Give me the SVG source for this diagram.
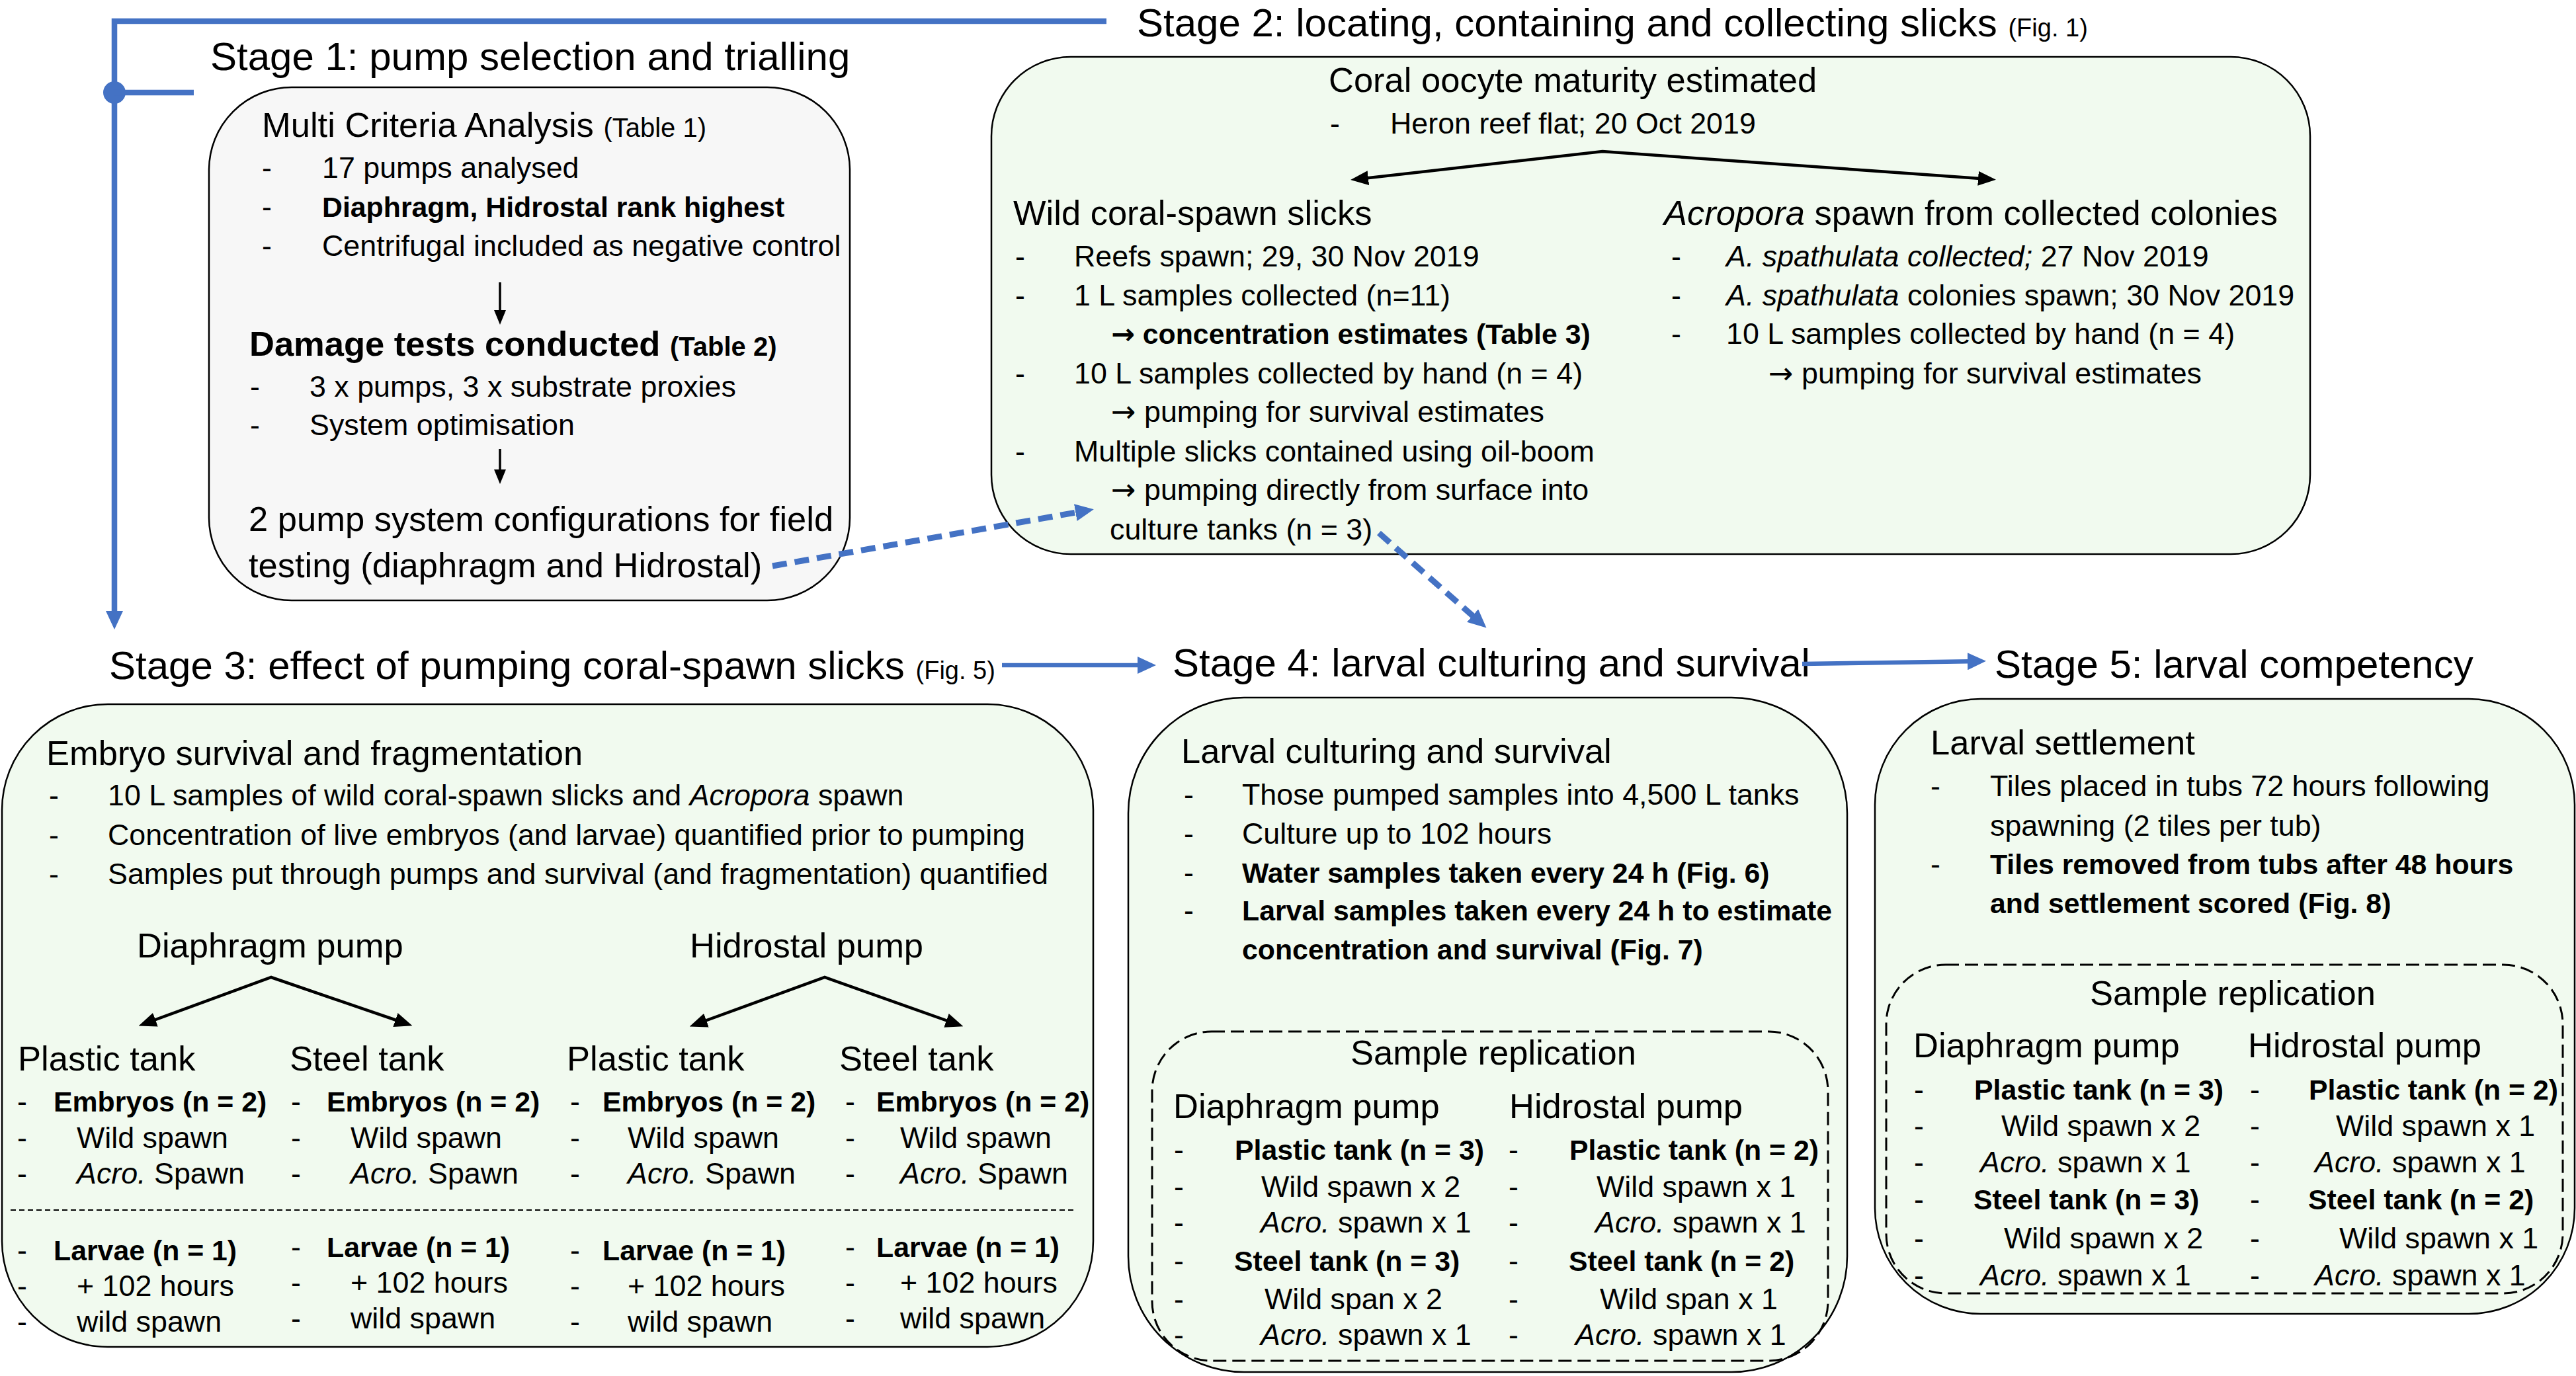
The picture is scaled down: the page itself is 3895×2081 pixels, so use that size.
<svg xmlns="http://www.w3.org/2000/svg" width="3895" height="2081" viewBox="0 0 3895 2081">
<style>
text { font-family: "Liberation Sans", Arial, sans-serif; fill: #000; }
.ti { font-size: 60px; }
.h { font-size: 52.5px; }
.b { font-size: 44.8px; }
.bb { font-size: 42.8px; font-weight: bold; }
.sm { font-size: 40px; }
.xs { font-size: 38px; }
.bf { font-weight: bold; }
.it { font-style: italic; }
.ar { font-family: "DejaVu Sans", sans-serif; }
.box { stroke: #000; stroke-width: 2.5; }
.grey { fill: #F7F7F7; }
.green { fill: #F1FAEF; }
.dbox { fill: none; stroke: #000; stroke-width: 3; stroke-dasharray: 20 9; }
.sep { fill: none; stroke: #000; stroke-width: 2; stroke-dasharray: 8 5; }
.bl { stroke: #4472C4; fill: none; }
.bk { stroke: #000; fill: none; }
</style>
<defs>
<marker id="bh" viewBox="0 0 28 26" markerWidth="28" markerHeight="26" refX="18" refY="13" orient="auto" markerUnits="userSpaceOnUse"><path d="M0,0 L28,13 L0,26 z" fill="#4472C4"/></marker>
<marker id="kh" viewBox="0 0 27 22" markerWidth="27" markerHeight="22" refX="17" refY="11" orient="auto-start-reverse" markerUnits="userSpaceOnUse"><path d="M0,0 L27,11 L0,22 z" fill="#000"/></marker>
<marker id="ks" viewBox="0 0 22 18" markerWidth="22" markerHeight="18" refX="12" refY="9" orient="auto" markerUnits="userSpaceOnUse"><path d="M0,0 L22,9 L0,18 z" fill="#000"/></marker>
</defs>

<g id="stage1">
<text class="ti" x="318" y="106">Stage 1: pump selection and trialling</text>
<rect class="box grey" x="316" y="132" width="969" height="776" rx="125" ry="125"/>
<text class="h" x="396" y="207">Multi Criteria Analysis <tspan class="sm">(Table 1)</tspan></text>
<text class="b" x="396" y="269">-</text><text class="b" x="487" y="269">17 pumps analysed</text>
<text class="b" x="396" y="328">-</text><text class="bb" x="487" y="328">Diaphragm, Hidrostal rank highest</text>
<text class="b" x="396" y="387">-</text><text class="b" x="487" y="387">Centrifugal included as negative control</text>
<text class="h bf" x="377" y="538">Damage tests conducted <tspan class="sm">(Table 2)</tspan></text>
<text class="b" x="378" y="600">-</text><text class="b" x="468" y="600">3 x pumps, 3 x substrate proxies</text>
<text class="b" x="378" y="658">-</text><text class="b" x="468" y="658">System optimisation</text>
<text class="h" x="376" y="803">2 pump system configurations for field</text>
<text class="h" x="376" y="873">testing (diaphragm and Hidrostal)</text>
</g>

<g id="stage2">
<text class="ti" x="1719" y="55">Stage 2: locating, containing and collecting slicks <tspan class="xs">(Fig. 1)</tspan></text>
<rect class="box green" x="1499" y="86" width="1994" height="752" rx="120" ry="120"/>
<text class="h" x="2009" y="139">Coral oocyte maturity estimated</text>
<text class="b" x="2011" y="202">-</text><text class="b" x="2102" y="202">Heron reef flat; 20 Oct 2019</text>
<text class="h" x="1532" y="340">Wild coral-spawn slicks</text>
<text class="b" x="1535" y="403">-</text><text class="b" x="1624" y="403">Reefs spawn; 29, 30 Nov 2019</text>
<text class="b" x="1535" y="462">-</text><text class="b" x="1624" y="462">1 L samples collected (n=11)</text>
<text class="bb" x="1680" y="520"><tspan class="ar">→</tspan> concentration estimates (Table 3)</text>
<text class="b" x="1535" y="580">-</text><text class="b" x="1624" y="580">10 L samples collected by hand (n = 4)</text>
<text class="b" x="1680" y="638"><tspan class="ar">→</tspan> pumping for survival estimates</text>
<text class="b" x="1535" y="698">-</text><text class="b" x="1624" y="698">Multiple slicks contained using oil-boom</text>
<text class="b" x="1680" y="756"><tspan class="ar">→</tspan> pumping directly from surface into</text>
<text class="b" x="1678" y="816">culture tanks (n = 3)</text>
<text class="h" x="2516" y="340"><tspan class="it">Acropora</tspan> spawn from collected colonies</text>
<text class="b" x="2527" y="403">-</text><text class="b" x="2610" y="403"><tspan class="it">A. spathulata collected;</tspan> 27 Nov 2019</text>
<text class="b" x="2527" y="462">-</text><text class="b" x="2610" y="462"><tspan class="it">A. spathulata</tspan> colonies spawn; 30 Nov 2019</text>
<text class="b" x="2527" y="520">-</text><text class="b" x="2610" y="520">10 L samples collected by hand (n = 4)</text>
<text class="b" x="2674" y="580"><tspan class="ar">→</tspan> pumping for survival estimates</text>
</g>

<g id="stage3">
<text class="ti" x="165" y="1027">Stage 3: effect of pumping coral-spawn slicks <tspan class="xs">(Fig. 5)</tspan></text>
<rect class="box green" x="3" y="1065" width="1650" height="972" rx="160" ry="160"/>
<text class="h" x="70" y="1157">Embryo survival and fragmentation</text>
<text class="b" x="74" y="1218">-</text><text class="b" x="163" y="1218">10 L samples of wild coral-spawn slicks and <tspan class="it">Acropora</tspan> spawn</text>
<text class="b" x="74" y="1278">-</text><text class="b" x="163" y="1278">Concentration of live embryos (and larvae) quantified prior to pumping</text>
<text class="b" x="74" y="1337">-</text><text class="b" x="163" y="1337">Samples put through pumps and survival (and fragmentation) quantified</text>
<text class="h" x="207" y="1448">Diaphragm pump</text>
<text class="h" x="1043" y="1448">Hidrostal pump</text>
<text class="h" x="27" y="1619">Plastic tank</text>
<text class="h" x="438" y="1619">Steel tank</text>
<text class="h" x="857" y="1619">Plastic tank</text>
<text class="h" x="1269" y="1619">Steel tank</text>
<text class="b" x="26" y="1681">-</text><text class="bb" x="81" y="1681">Embryos (n = 2)</text>
<text class="b" x="26" y="1736">-</text><text class="b" x="116" y="1736">Wild spawn</text>
<text class="b" x="26" y="1790">-</text><text class="b" x="116" y="1790"><tspan class="it">Acro.</tspan> Spawn</text>
<text class="b" x="440" y="1681">-</text><text class="bb" x="494" y="1681">Embryos (n = 2)</text>
<text class="b" x="440" y="1736">-</text><text class="b" x="530" y="1736">Wild spawn</text>
<text class="b" x="440" y="1790">-</text><text class="b" x="530" y="1790"><tspan class="it">Acro.</tspan> Spawn</text>
<text class="b" x="862" y="1681">-</text><text class="bb" x="911" y="1681">Embryos (n = 2)</text>
<text class="b" x="862" y="1736">-</text><text class="b" x="949" y="1736">Wild spawn</text>
<text class="b" x="862" y="1790">-</text><text class="b" x="949" y="1790"><tspan class="it">Acro.</tspan> Spawn</text>
<text class="b" x="1278" y="1681">-</text><text class="bb" x="1325" y="1681">Embryos (n = 2)</text>
<text class="b" x="1278" y="1736">-</text><text class="b" x="1361" y="1736">Wild spawn</text>
<text class="b" x="1278" y="1790">-</text><text class="b" x="1361" y="1790"><tspan class="it">Acro.</tspan> Spawn</text>
<path class="sep" d="M16,1830 H1627"/>
<text class="b" x="26" y="1906">-</text><text class="bb" x="81" y="1906">Larvae (n = 1)</text>
<text class="b" x="26" y="1960">-</text><text class="b" x="116" y="1960">+ 102 hours</text>
<text class="b" x="26" y="2014">-</text><text class="b" x="116" y="2014">wild spawn</text>
<text class="b" x="440" y="1901">-</text><text class="bb" x="494" y="1901">Larvae (n = 1)</text>
<text class="b" x="440" y="1955">-</text><text class="b" x="530" y="1955">+ 102 hours</text>
<text class="b" x="440" y="2009">-</text><text class="b" x="530" y="2009">wild spawn</text>
<text class="b" x="862" y="1906">-</text><text class="bb" x="911" y="1906">Larvae (n = 1)</text>
<text class="b" x="862" y="1960">-</text><text class="b" x="949" y="1960">+ 102 hours</text>
<text class="b" x="862" y="2014">-</text><text class="b" x="949" y="2014">wild spawn</text>
<text class="b" x="1278" y="1901">-</text><text class="bb" x="1325" y="1901">Larvae (n = 1)</text>
<text class="b" x="1278" y="1955">-</text><text class="b" x="1361" y="1955">+ 102 hours</text>
<text class="b" x="1278" y="2009">-</text><text class="b" x="1361" y="2009">wild spawn</text>
</g>

<g id="stage4">
<text class="ti" x="1773" y="1023">Stage 4: larval culturing and survival</text>
<rect class="box green" x="1706" y="1055" width="1087" height="1020" rx="175" ry="175"/>
<text class="h" x="1786" y="1154">Larval culturing and survival</text>
<text class="b" x="1790" y="1217">-</text><text class="b" x="1878" y="1217">Those pumped samples into 4,500 L tanks</text>
<text class="b" x="1790" y="1276">-</text><text class="b" x="1878" y="1276">Culture up to 102 hours</text>
<text class="b" x="1790" y="1335">-</text><text class="bb" x="1878" y="1335">Water samples taken every 24 h (Fig. 6)</text>
<text class="b" x="1790" y="1392">-</text><text class="bb" x="1878" y="1392">Larval samples taken every 24 h to estimate</text>
<text class="bb" x="1878" y="1451">concentration and survival (Fig. 7)</text>
<rect class="dbox" x="1742" y="1560" width="1022" height="498" rx="90" ry="90"/>
<text class="h" x="2042" y="1610">Sample replication</text>
<text class="h" x="1774" y="1691">Diaphragm pump</text>
<text class="h" x="2282" y="1691">Hidrostal pump</text>
<text class="b" x="1775" y="1754">-</text><text class="bb" x="1867" y="1754">Plastic tank (n = 3)</text>
<text class="b" x="1775" y="1810">-</text><text class="b" x="1907" y="1810">Wild spawn x 2</text>
<text class="b" x="1775" y="1864">-</text><text class="b" x="1906" y="1864"><tspan class="it">Acro.</tspan> spawn x 1</text>
<text class="b" x="1775" y="1922">-</text><text class="bb" x="1866" y="1922">Steel tank (n = 3)</text>
<text class="b" x="1775" y="1980">-</text><text class="b" x="1912" y="1980">Wild span x 2</text>
<text class="b" x="1775" y="2034">-</text><text class="b" x="1906" y="2034"><tspan class="it">Acro.</tspan> spawn x 1</text>
<text class="b" x="2281" y="1754">-</text><text class="bb" x="2373" y="1754">Plastic tank (n = 2)</text>
<text class="b" x="2281" y="1810">-</text><text class="b" x="2414" y="1810">Wild spawn x 1</text>
<text class="b" x="2281" y="1864">-</text><text class="b" x="2412" y="1864"><tspan class="it">Acro.</tspan> spawn x 1</text>
<text class="b" x="2281" y="1922">-</text><text class="bb" x="2372" y="1922">Steel tank (n = 2)</text>
<text class="b" x="2281" y="1980">-</text><text class="b" x="2419" y="1980">Wild span x 1</text>
<text class="b" x="2281" y="2034">-</text><text class="b" x="2382" y="2034"><tspan class="it">Acro.</tspan> spawn x 1</text>
</g>

<g id="stage5">
<text class="ti" x="3016" y="1025">Stage 5: larval competency</text>
<rect class="box green" x="2835" y="1057" width="1058" height="930" rx="160" ry="160"/>
<text class="h" x="2919" y="1141">Larval settlement</text>
<text class="b" x="2919" y="1204">-</text><text class="b" x="3009" y="1204">Tiles placed in tubs 72 hours following</text>
<text class="b" x="3009" y="1264">spawning (2 tiles per tub)</text>
<text class="b" x="2919" y="1322">-</text><text class="bb" x="3009" y="1322">Tiles removed from tubs after 48 hours</text>
<text class="bb" x="3009" y="1381">and settlement scored (Fig. 8)</text>
<rect class="dbox" x="2852" y="1459" width="1023" height="497" rx="90" ry="90"/>
<text class="h" x="3160" y="1520">Sample replication</text>
<text class="h" x="2893" y="1599">Diaphragm pump</text>
<text class="h" x="3399" y="1599">Hidrostal pump</text>
<text class="b" x="2894" y="1663">-</text><text class="bb" x="2985" y="1663">Plastic tank (n = 3)</text>
<text class="b" x="2894" y="1718">-</text><text class="b" x="3026" y="1718">Wild spawn x 2</text>
<text class="b" x="2894" y="1773">-</text><text class="b" x="2994" y="1773"><tspan class="it">Acro.</tspan> spawn x 1</text>
<text class="b" x="2894" y="1829">-</text><text class="bb" x="2984" y="1829">Steel tank (n = 3)</text>
<text class="b" x="2894" y="1888">-</text><text class="b" x="3030" y="1888">Wild spawn x 2</text>
<text class="b" x="2894" y="1944">-</text><text class="b" x="2994" y="1944"><tspan class="it">Acro.</tspan> spawn x 1</text>
<text class="b" x="3402" y="1663">-</text><text class="bb" x="3491" y="1663">Plastic tank (n = 2)</text>
<text class="b" x="3402" y="1718">-</text><text class="b" x="3532" y="1718">Wild spawn x 1</text>
<text class="b" x="3402" y="1773">-</text><text class="b" x="3500" y="1773"><tspan class="it">Acro.</tspan> spawn x 1</text>
<text class="b" x="3402" y="1829">-</text><text class="bb" x="3490" y="1829">Steel tank (n = 2)</text>
<text class="b" x="3402" y="1888">-</text><text class="b" x="3537" y="1888">Wild spawn x 1</text>
<text class="b" x="3402" y="1944">-</text><text class="b" x="3500" y="1944"><tspan class="it">Acro.</tspan> spawn x 1</text>
</g>

<g id="connectors">
<path class="bl" stroke-width="8.5" d="M1673,32 H173 V942" marker-end="url(#bh)"/>
<circle cx="173" cy="140" r="17" fill="#4472C4"/>
<path class="bl" stroke-width="8.5" d="M173,140 H293"/>
<path class="bl" stroke-width="9" stroke-dasharray="22 12" d="M1168,856 L1644,772" marker-end="url(#bh)"/>
<path class="bl" stroke-width="9" stroke-dasharray="22 12" d="M2085,806 L2240,943" marker-end="url(#bh)"/>
<path class="bl" stroke-width="6.5" d="M1515,1006 H1738" marker-end="url(#bh)"/>
<path class="bl" stroke-width="6.5" d="M2725,1004 L2993,1000" marker-end="url(#bh)"/>
<path class="bk" stroke-width="3.5" d="M756,427 V481" marker-end="url(#ks)"/>
<path class="bk" stroke-width="3.5" d="M756,679 V722" marker-end="url(#ks)"/>
<path class="bk" stroke-width="4.5" d="M2052,271 L2423,229 L3008,271" marker-start="url(#kh)" marker-end="url(#kh)"/>
<path class="bk" stroke-width="4.5" d="M219,1548 L410,1478 L614,1548" marker-start="url(#kh)" marker-end="url(#kh)"/>
<path class="bk" stroke-width="4.5" d="M1052,1549 L1247,1478 L1447,1549" marker-start="url(#kh)" marker-end="url(#kh)"/>
</g>
</svg>
